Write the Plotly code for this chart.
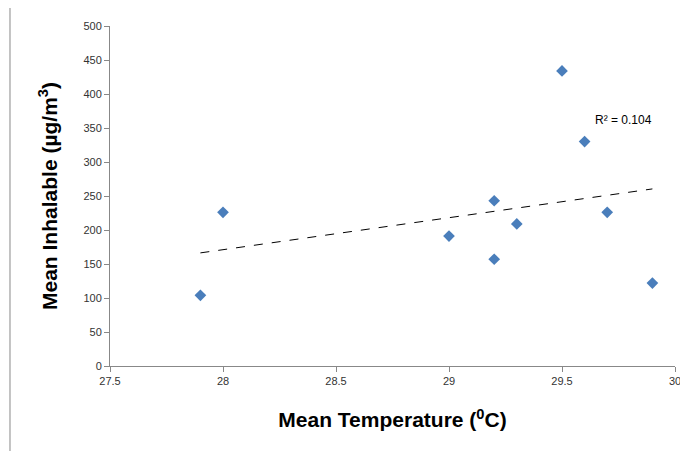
import numpy as np
import plotly.graph_objects as go

# Mean temperature vs mean inhalable dust concentration
temps = [27.9, 28.0, 29.0, 29.2, 29.2, 29.3, 29.5, 29.6, 29.7, 29.9]
inhalable = [104, 226, 191, 243, 157, 209, 434, 330, 226, 122]

slope, intercept = np.polyfit(temps, inhalable, 1)
trend_x = [min(temps), max(temps)]
trend_y = [slope * x + intercept for x in trend_x]

fig = go.Figure()
fig.add_trace(go.Scatter(x=trend_x, y=trend_y, mode="lines",
                         line=dict(color="black", width=1, dash="dash")))
fig.add_trace(go.Scatter(x=temps, y=inhalable, mode="markers",
                         marker=dict(symbol="diamond", size=9, color="#4a7ebb")))

fig.add_annotation(x=29.77, y=362, text="R² = 0.104", showarrow=False,
                   font=dict(size=12, color="black"))
fig.add_shape(type="line", xref="paper", yref="paper", x0=-0.177, x1=-0.177, y0=-0.3, y1=1.1,
              line=dict(color="#888", width=1))

fig.update_layout(
    width=688, height=451, showlegend=False,
    plot_bgcolor="white", paper_bgcolor="white",
    margin=dict(l=102, r=21, t=14, b=93),
    font=dict(family="Liberation Sans, Arial", color="#333", size=11),
    xaxis=dict(range=[27.5, 30], dtick=0.5, showgrid=False, showline=True,
               linecolor="#888", ticks="outside", ticklen=5, tickcolor="#888",
               title=dict(text="<b>Mean Temperature (<sup>0</sup>C)</b>", standoff=26,
                          font=dict(size=21, color="black"))),
    yaxis=dict(range=[0, 500], dtick=50, showgrid=False, showline=True,
               linecolor="#888", ticks="outside", ticklen=5, tickcolor="#888",
               title=dict(text="<b>Mean Inhalable (µg/m<sup>3</sup>)</b>", standoff=20,
                          font=dict(size=21, color="black"))),
)
fig.write_html("out.html")
